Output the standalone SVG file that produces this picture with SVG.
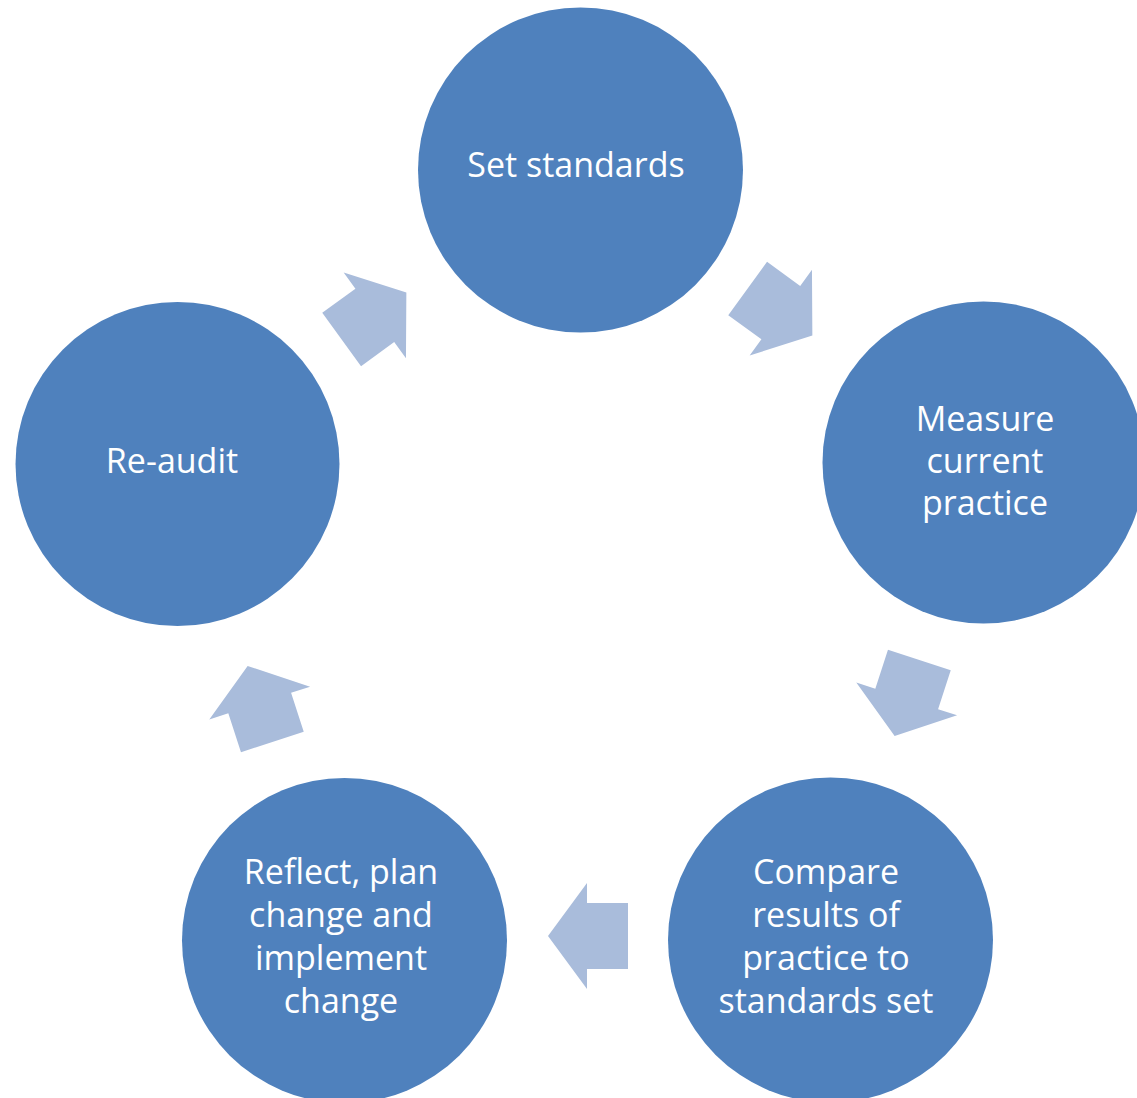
<svg xmlns="http://www.w3.org/2000/svg" width="1137" height="1098" viewBox="0 0 1137 1098">
  <style>
    .node { fill: #4f81bd; }
    .lbl { fill: #ffffff; font-family: "Open Sans", "Liberation Sans", sans-serif; font-size: 34px; text-anchor: middle; }
    .arrow { fill: #a9bcdb; }
  </style>
  <defs>
    <path id="blockArrow" d="M-40,-33 L1,-33 L1,-53 L40,0 L1,53 L1,33 L-40,33 Z"/>
  </defs>
  <rect width="1137" height="1098" fill="#ffffff"/>

  <g id="connectors">
    <use href="#blockArrow" class="arrow" transform="translate(374,316) rotate(-36)"/>
    <use href="#blockArrow" class="arrow" transform="translate(780,312) rotate(36)"/>
    <use href="#blockArrow" class="arrow" transform="translate(907,698) rotate(108)"/>
    <use href="#blockArrow" class="arrow" transform="translate(588,936) rotate(180)"/>
    <use href="#blockArrow" class="arrow" transform="translate(260,704) rotate(252)"/>
  </g>

  <g id="set-standards">
    <circle class="node" cx="580.5" cy="170" r="162.5"/>
    <text class="lbl" x="576" y="177">Set standards</text>
  </g>

  <g id="measure-current-practice">
    <circle class="node" cx="983.5" cy="462.5" r="161"/>
    <text class="lbl" x="985" y="431">Measure</text>
    <text class="lbl" x="985" y="473">current</text>
    <text class="lbl" x="985" y="515">practice</text>
  </g>

  <g id="compare-results">
    <circle class="node" cx="830.5" cy="940" r="162.5"/>
    <text class="lbl" x="826" y="884">Compare</text>
    <text class="lbl" x="826" y="927">results of</text>
    <text class="lbl" x="826" y="970">practice to</text>
    <text class="lbl" x="826" y="1013">standards set</text>
  </g>

  <g id="reflect-plan-change">
    <circle class="node" cx="344.5" cy="940.5" r="162.5"/>
    <text class="lbl" x="341" y="884">Reflect, plan</text>
    <text class="lbl" x="341" y="927">change and</text>
    <text class="lbl" x="341" y="970">implement</text>
    <text class="lbl" x="341" y="1013">change</text>
  </g>

  <g id="re-audit">
    <circle class="node" cx="177.5" cy="464" r="162"/>
    <text class="lbl" x="172" y="473">Re-audit</text>
  </g>
</svg>
